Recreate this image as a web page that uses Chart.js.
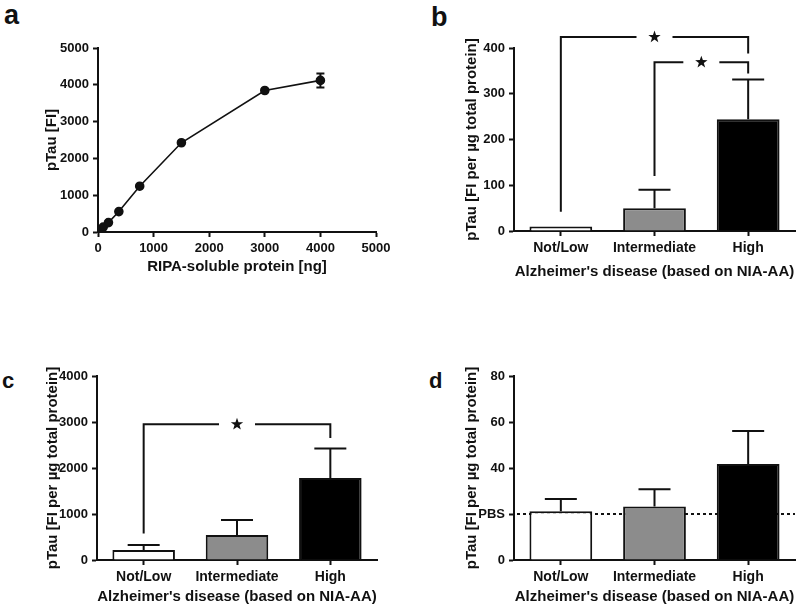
<!DOCTYPE html>
<html>
<head>
<meta charset="utf-8">
<script src="https://cdn.jsdelivr.net/npm/chart.js@4"></script>
<style>
  body { margin: 0; background: #fff; width: 800px; height: 614px; position: relative; overflow: hidden;
         font-family: "Liberation Sans", Arial, sans-serif; }
  canvas { position: absolute; }
  .tag { position: absolute; font-weight: bold; color: #111; line-height: 1; }
</style>
</head>
<body>
<div class="tag" style="left:4px;top:2px;font-size:27px">a</div>
<div class="tag" style="left:431px;top:4px;font-size:27px">b</div>
<div class="tag" style="left:2px;top:370px;font-size:22px">c</div>
<div class="tag" style="left:429px;top:370px;font-size:22px">d</div>

<canvas id="chartA" width="400" height="300" style="left:0;top:0"></canvas>
<canvas id="chartB" width="400" height="300" style="left:400px;top:0"></canvas>
<canvas id="chartC" width="400" height="314" style="left:0;top:300px"></canvas>
<canvas id="chartD" width="400" height="314" style="left:400px;top:300px"></canvas>

<script>
// panel a: standard curve
const curveProtein = [47, 94, 188, 375, 750, 1500, 3000, 4000];
const curvePTau = [50, 135, 255, 555, 1245, 2425, 3845, 4120];
const curveSD = [0, 0, 0, 0, 0, 0, 0, 190];

// panels b-d: groups
const groups = ['Not/Low', 'Intermediate', 'High'];
const groupColors = ['#ffffff', '#8c8c8c', '#000000'];

const bMean = [10, 50, 244];
const bSD = [0, 40, 87];
const cMean = [217, 543, 1783];
const cSD = [109, 327, 643];
const dMean = [21.2, 23.3, 41.7];
const dSD = [5.3, 7.5, 14.4];
const pbsLevel = 20;

// significance brackets: [from group, to group, bracket level, left leg end, right leg end]
const bBrackets = [[0, 2, 424, 42, 388], [1, 2, 369, 120, 344]];
const cBrackets = [[0, 2, 2950, 578, 2650]];

const FONT = 'Liberation Sans';
const INK = '#111';

Chart.defaults.font.family = FONT;
Chart.defaults.font.weight = 'bold';
Chart.defaults.color = INK;
Chart.defaults.animation = false;

function errorBars(sd, cap, both) {
  return {
    id: 'errorBars',
    afterDatasetsDraw(chart) {
      const ctx = chart.ctx;
      const y = chart.scales.y;
      const ds = chart.data.datasets[0];
      const meta = chart.getDatasetMeta(0);
      ctx.save();
      ctx.strokeStyle = INK;
      ctx.lineWidth = 2;
      meta.data.forEach((el, i) => {
        if (!sd[i]) return;
        const v = ds.data[i];
        const val = typeof v === 'object' ? v.y : v;
        const top = y.getPixelForValue(val + sd[i]);
        const bottom = both ? y.getPixelForValue(val - sd[i]) : el.y;
        ctx.beginPath();
        ctx.moveTo(el.x, bottom);
        ctx.lineTo(el.x, top);
        ctx.moveTo(el.x - cap, top);
        ctx.lineTo(el.x + cap, top);
        if (both) {
          ctx.moveTo(el.x - cap, bottom);
          ctx.lineTo(el.x + cap, bottom);
        }
        ctx.stroke();
      });
      ctx.restore();
    }
  };
}

function drawStar(ctx, cx, cy, r) {
  ctx.beginPath();
  for (let k = 0; k < 10; k++) {
    const rad = k % 2 === 0 ? r : r * 0.4;
    const ang = -Math.PI / 2 + k * Math.PI / 5;
    const px = cx + rad * Math.cos(ang), py = cy + rad * Math.sin(ang);
    if (k === 0) ctx.moveTo(px, py); else ctx.lineTo(px, py);
  }
  ctx.closePath();
  ctx.fill();
}

function sigBrackets(list) {
  return {
    id: 'sigBrackets',
    afterDatasetsDraw(chart) {
      const ctx = chart.ctx;
      const x = chart.scales.x, y = chart.scales.y;
      ctx.save();
      ctx.strokeStyle = INK;
      ctx.fillStyle = INK;
      ctx.lineWidth = 2;
      ctx.lineJoin = 'miter';
      list.forEach(b => {
        const x1 = x.getPixelForValue(b[0]), x2 = x.getPixelForValue(b[1]);
        const yl = y.getPixelForValue(b[2]);
        const y1 = y.getPixelForValue(b[3]), y2 = y.getPixelForValue(b[4]);
        const xm = (x1 + x2) / 2, gap = 18;
        ctx.beginPath();
        ctx.moveTo(x1, y1);
        ctx.lineTo(x1, yl);
        ctx.lineTo(xm - gap, yl);
        ctx.moveTo(xm + gap, yl);
        ctx.lineTo(x2, yl);
        ctx.lineTo(x2, y2);
        ctx.stroke();
        drawStar(ctx, xm, yl, 6.5);
      });
      ctx.restore();
    }
  };
}

const pbsLine = {
  id: 'pbsLine',
  beforeDatasetsDraw(chart) {
    const ctx = chart.ctx, area = chart.chartArea;
    const yp = chart.scales.y.getPixelForValue(pbsLevel);
    ctx.save();
    ctx.strokeStyle = INK;
    ctx.lineWidth = 2;
    ctx.setLineDash([3, 3]);
    ctx.beginPath();
    ctx.moveTo(area.left + 3, yp);
    ctx.lineTo(area.right, yp);
    ctx.stroke();
    ctx.restore();
  }
};

function axis(o) {
  return {
    type: o.type || 'linear',
    min: o.min,
    max: o.max,
    offset: o.offset || false,
    border: { display: true, color: INK, width: 2 },
    grid: { display: true, drawOnChartArea: false, drawTicks: true, tickLength: 5,
            tickWidth: 2, tickColor: INK, offset: false },
    ticks: {
      stepSize: o.step,
      autoSkip: false,
      maxRotation: 0,
      padding: 4,
      font: { size: o.tickSize || 13, weight: 'bold' },
      callback: o.cb || function (v) { return String(v); }
    },
    title: { display: true, text: o.title, color: INK,
             font: { size: 15, weight: 'bold' }, padding: o.titlePad },
    afterFit(s) {
      if (o.width) s.width = o.width;
      if (o.height) s.height = o.height;
    }
  };
}

function baseOptions(pad) {
  return {
    responsive: false,
    devicePixelRatio: 1,
    layout: { padding: pad },
    plugins: { legend: { display: false }, tooltip: { enabled: false } }
  };
}

// panel a
new Chart(document.getElementById('chartA'), {
  type: 'scatter',
  data: {
    datasets: [{
      data: curveProtein.map((p, i) => ({ x: p, y: curvePTau[i] })),
      showLine: true,
      borderColor: INK,
      borderWidth: 1.6,
      pointRadius: 4,
      pointBackgroundColor: INK,
      pointBorderColor: INK
    }]
  },
  options: Object.assign(baseOptions({ top: 48, right: 24, left: 0, bottom: 0 }), {
    scales: {
      x: axis({ min: 0, max: 5000, step: 1000, title: 'RIPA-soluble protein [ng]',
                height: 68, titlePad: { top: 0, bottom: 24 } }),
      y: axis({ min: 0, max: 5000, step: 1000, title: 'pTau [FI]',
                width: 98, titlePad: { top: 43, bottom: 0 } })
    }
  }),
  plugins: [errorBars(curveSD, 4, true)]
});

function barChart(id, mean, sd, yMin, yMax, yStep, o) {
  return new Chart(document.getElementById(id), {
    type: 'bar',
    data: {
      labels: groups,
      datasets: [{
        data: mean,
        backgroundColor: groupColors,
        borderColor: INK,
        borderWidth: 2,
        borderSkipped: 'bottom',
        barPercentage: 0.67,
        categoryPercentage: 1.0
      }]
    },
    options: Object.assign(baseOptions(o.pad), {
      scales: {
        x: axis({ type: 'category', offset: true, tickSize: 14,
                  cb: function (v) { return this.getLabelForValue(v); },
                  title: "Alzheimer's disease (based on NIA-AA)",
                  height: o.xHeight, titlePad: { top: 0, bottom: o.xTitlePad } }),
        y: axis({ min: yMin, max: yMax, step: yStep, cb: o.yCb,
                  title: 'pTau [FI per \u00b5g total protein]',
                  width: o.yWidth, titlePad: { top: o.yTitlePad, bottom: 0 } })
      }
    }),
    plugins: o.plugins.concat([errorBars(sd, 16, false)])
  });
}

barChart('chartB', bMean, bSD, 0, 400, 100, {
  pad: { top: 48, right: 5, left: 0, bottom: 0 },
  xHeight: 69, xTitlePad: 19, yWidth: 114, yTitlePad: 63,
  plugins: [sigBrackets(bBrackets)]
});

barChart('chartC', cMean, cSD, 0, 4000, 1000, {
  pad: { top: 76, right: 23, left: 0, bottom: 0 },
  xHeight: 54, xTitlePad: 8, yWidth: 97, yTitlePad: 44,
  plugins: [sigBrackets(cBrackets)]
});

barChart('chartD', dMean, dSD, 0, 80, 20, {
  pad: { top: 76, right: 5, left: 0, bottom: 0 },
  xHeight: 54, xTitlePad: 8, yWidth: 114, yTitlePad: 63,
  yCb: function (v) { return v === pbsLevel ? 'PBS' : String(v); },
  plugins: [pbsLine]
});
</script>
</body>
</html>
